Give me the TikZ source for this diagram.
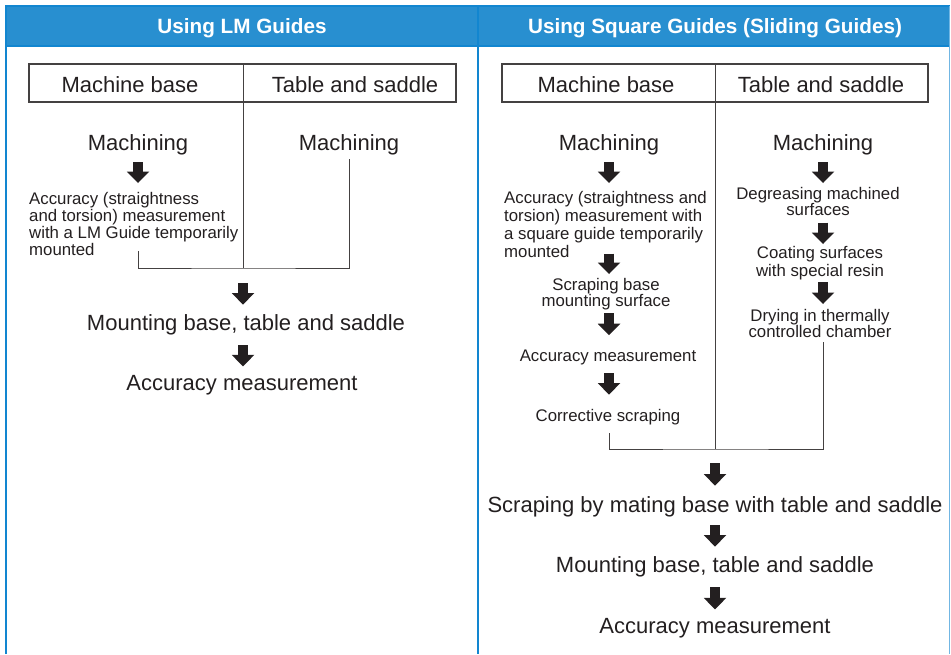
\documentclass[tikz,border=0pt]{standalone}
\usepackage{fontspec}
\setmainfont{Liberation Sans}
\usetikzlibrary{arrows.meta}

\definecolor{hdrblue}{RGB}{40,143,208}
\definecolor{frameblue}{RGB}{18,134,208}
\definecolor{ink}{RGB}{35,31,32}

\tikzset{
  big/.style={font=\fontsize{22}{26}\selectfont, text=ink, inner sep=0pt},
  small/.style={font=\fontsize{16.8}{17}\selectfont, text=ink, inner sep=0pt},
  hdr/.style={font=\fontsize{20.7}{24}\selectfont\bfseries, text=white, inner sep=0pt},
  tabbox/.style={draw=ink!85, line width=1.1pt, inner sep=0pt},
  wire/.style={draw=ink!85, line width=1pt},
  flow/.style={draw=ink, line width=9.5pt, -{Triangle[width=22.5pt,length=11.5pt,line width=0pt]}}
}

\begin{document}
\begin{tikzpicture}[x=1pt, y=-1pt]
    \useasboundingbox (0,0) rectangle (951,654);

    % Frame and headers
    \fill[hdrblue] (6,6) rectangle (949.5,46);
    \draw[frameblue, line width=1.5pt] (6,46) -- (949.5,46);
    \draw[frameblue, line width=2pt] (6,654) -- (6,6) -- (949.5,6);
    \draw[frameblue!60, line width=1.5pt] (949.5,6) -- (949.5,654);
    \draw[frameblue, line width=2pt] (478,6) -- (478,654);
    \node[hdr, anchor=base] (hdL) at (242,33) {Using LM Guides};
    \node[hdr, anchor=base] (hdR) at (715,33) {Using Square Guides (Sliding Guides)};

    % Left: LM Guides
    \node[tabbox, minimum width=427, minimum height=38] (tabL) at (242.5,83) {};
    \node[big, anchor=base] (mbL) at (130,92) {Machine base};
    \node[big, anchor=base] (tsL) at (355,92) {Table and saddle};
    \node[big, anchor=base] (m1L) at (138,150) {Machining};
    \node[big, anchor=base] (m2L) at (349,150) {Machining};
    \node[small, anchor=north west, align=left] (accL) at (29,192.5)
        {Accuracy (straightness\\and torsion) measurement\\with a LM Guide temporarily\\mounted};
    \coordinate (jL) at (243,268);
    \node[big, anchor=base] (mtL) at (246,330) {Mounting base, table and saddle};
    \node[big, anchor=base] (acL) at (242,390) {Accuracy measurement};

    \draw[wire] (tabL.north -| jL) -- (jL);
    \draw[wire, shorten <=-5pt, shorten >=4.4pt] (m1L |- accL.south) |- (jL) -| (m2L.south);
    \draw[flow, shorten <=7.4pt, shorten >=9.5pt] (m1L.south) -- (m1L.south |- accL.north);
    \draw[flow, shorten <=15pt, shorten >=9.25pt] (jL) -- (jL |- mtL.north);
    \draw[flow, shorten <=10.4pt, shorten >=8.25pt] (jL |- mtL.south) -- (jL |- acL.north);

    % Right: square guides
    \node[tabbox, minimum width=426, minimum height=38] (tabR) at (715,83) {};
    \node[big, anchor=base] (mbR) at (606,92) {Machine base};
    \node[big, anchor=base] (tsR) at (821,92) {Table and saddle};
    \node[big, anchor=base] (m1R) at (609,150) {Machining};
    \node[big, anchor=base] (m2R) at (823,150) {Machining};
    \node[small, anchor=north west, align=left, font=\fontsize{16.8}{18}\selectfont] (accR) at (504,190.7)
        {Accuracy (straightness and\\torsion) measurement with\\a square guide temporarily\\mounted};
    \node[small, anchor=north, align=center, font=\fontsize{16.8}{16}\selectfont] (scrR) at (606,278)
        {Scraping base\\mounting surface};
    \node[small, anchor=base] (amR) at (608,361) {Accuracy measurement};
    \node[small, anchor=base] (csR) at (608,421) {Corrective scraping};
    \node[small, anchor=north, align=center, font=\fontsize{16.8}{16}\selectfont] (dgR) at (818,187)
        {Degreasing machined\\surfaces};
    \node[small, anchor=north, align=center, font=\fontsize{16.8}{18}\selectfont] (ctR) at (820,246)
        {Coating surfaces\\with special resin};
    \node[small, anchor=north, align=center, font=\fontsize{16.8}{16}\selectfont] (drR) at (820,309)
        {Drying in thermally\\controlled chamber};
    \coordinate (jR) at (715,449);
    \node[big, anchor=base] (sbR) at (715,512) {Scraping by mating base with table and saddle};
    \node[big, anchor=base] (mtR) at (715,572) {Mounting base, table and saddle};
    \node[big, anchor=base] (acR) at (715,633) {Accuracy measurement};

    \draw[wire] (tabR.north -| jR) -- (jR);
    \draw[wire, shorten <=8.5pt, shorten >=4.5pt] (m1R |- csR.south) |- (jR) -| (m2R |- drR.south);
    \draw[flow, shorten <=7.4pt, shorten >=7.7pt] (m1R.south) -- (m1R.south |- accR.north);
    \draw[flow, shorten <=-3.7pt, shorten >=4pt] (m1R |- accR.south) -- (m1R |- scrR.north);
    \draw[flow, shorten <=3.4pt, shorten >=14pt] (m1R |- scrR.south) -- (m1R |- amR.north);
    \draw[flow, shorten <=8.5pt, shorten >=14pt] (m1R |- amR.south) -- (m1R |- csR.north);
    \draw[flow, shorten <=7.4pt, shorten >=4pt] (m2R.south) -- (m2R.south |- dgR.north);
    \draw[flow, shorten <=7pt, shorten >=2pt] (m2R |- dgR.south) -- (m2R |- ctR.north);
    \draw[flow, shorten <=2.4pt, shorten >=5pt] (m2R |- ctR.south) -- (m2R |- drR.north);
    \draw[flow, shorten <=14pt, shorten >=10.25pt] (jR) -- (jR |- sbR.north);
    \draw[flow, shorten <=8.4pt, shorten >=9.25pt] (jR |- sbR.south) -- (jR |- mtR.north);
    \draw[flow, shorten <=10.4pt, shorten >=8.25pt] (jR |- mtR.south) -- (jR |- acR.north);
\end{tikzpicture}
\end{document}
